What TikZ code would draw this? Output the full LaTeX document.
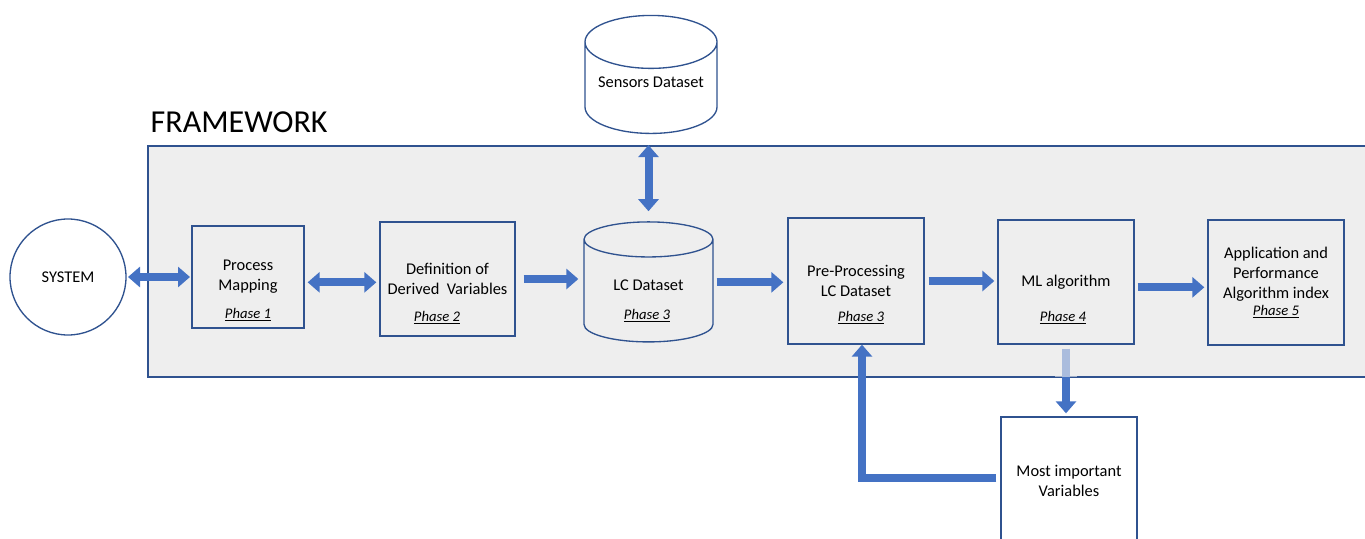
\documentclass[tikz,border=0pt]{standalone}
\usepackage{fontspec}
\setmainfont{Carlito}
\usetikzlibrary{shapes.geometric, arrows.meta, positioning, calc}
\definecolor{edgeblue}{HTML}{2F528F}
\definecolor{arrowblue}{HTML}{4472C4}
\definecolor{fwgray}{HTML}{EEEEEE}

\begin{document}
\begin{tikzpicture}[
    x=0.75pt, y=-0.75pt,
    font=\fontsize{12.3}{15}\selectfont,
    box/.style={rectangle, draw=edgeblue, line width=1pt, fill=fwgray, align=center, inner sep=0pt},
    db/.style={cylinder, shape border rotate=90, draw=edgeblue, line width=1pt, fill=fwgray, aspect=0.5,
        text height=6pt, text depth=7pt, inner sep=0pt},
    phase/.style={font=\fontsize{11}{13}\selectfont\itshape},
    flow/.style={draw=arrowblue, line width=6pt, -{Triangle[width=15pt, length=9pt]}},
    dflow/.style={draw=arrowblue, line width=6pt, {Triangle[width=15pt, length=9pt]}-{Triangle[width=15pt, length=9pt]}}
]
    \useasboundingbox (0,0) rectangle (1365,539);

    % framework area
    \node[draw=edgeblue, line width=1pt, fill=fwgray, minimum width=918pt, minimum height=173.25pt] (framework) at (760,261.5) {};
    \node[anchor=west, font=\fontsize{24}{28}\selectfont] (fwlabel) at (146,122) {FRAMEWORK};

    % outside
    \node[circle, draw=edgeblue, line width=1pt, fill=white, minimum size=87pt] (system) at (68,277) {SYSTEM};
    \node[db, fill=white, minimum width=99pt, minimum height=88.5pt] (sensors) at (651,88) {Sensors Dataset};

    % phases
    \node[box, minimum width=84pt, minimum height=76.5pt] (procmap) at (248,277) {Process\\Mapping};
    \node[box, minimum width=101.25pt, minimum height=85.5pt] (defvar) at (447.5,279) {Definition of\\Derived\ \ Variables};
    \node[db, minimum width=96.75pt, minimum height=90pt] (lc) at (648.5,291) {LC Dataset};
    \node[box, minimum width=102pt, minimum height=94.5pt] (preproc) at (856,281) {Pre-Processing\\LC Dataset};
    \node[box, minimum width=102pt, minimum height=93pt] (ml) at (1066,282) {ML algorithm};
    \node[box, minimum width=102pt, minimum height=93.75pt] (app) at (1276,282.5)
        {Application and\\Performance\\Algorithm index\\[-2pt]{\fontsize{11}{13}\selectfont\itshape\underline{Phase 5}}};
    \node[box, fill=white, minimum width=102pt, minimum height=96pt] (most) at (1069,481) {Most important\\Variables};

    \node[phase] (ph1) at (248,315) {\underline{Phase 1}};
    \node[phase] (ph2) at (437,318) {\underline{Phase 2}};
    \node[phase] (ph3a) at (647,316) {\underline{Phase 3}};
    \node[phase] (ph3b) at (861,318) {\underline{Phase 3}};
    \node[phase] (ph4) at (1063,318) {\underline{Phase 4}};

    % arrows
    \draw[dflow, shorten <=1pt, shorten >=1pt] (system.east) -- (system.east -| procmap.west);
    \draw[dflow, shorten <=2.25pt, shorten >=2.25pt] ([yshift=-4pt]procmap.east) -- ([yshift=-4pt]procmap.east -| defvar.west);
    \draw[flow, shorten <=6pt, shorten >=3.75pt] (defvar.east) -- (defvar.east -| lc.west);
    \draw[flow, shorten <=2.25pt, shorten >=3pt] ([yshift=-4pt]procmap.east -| lc.east) -- ([yshift=-4pt]procmap.east -| preproc.west);
    \draw[flow, shorten <=3pt, shorten >=2.25pt] (preproc.east) -- (preproc.east -| ml.west);
    \draw[flow, shorten <=2.25pt, shorten >=2.25pt] ([yshift=-4pt]ml.east) -- ([yshift=-4pt]ml.east -| app.west);
    \draw[dflow, shorten <=8.25pt, shorten >=7.5pt] (lc.north |- sensors.south) -- (lc.north);
    \draw[flow, shorten <=3pt, shorten >=2.25pt] (ml.south) -- (ml.south |- most.north);
    \fill[fwgray, opacity=0.6] ([shift={(-8pt,-1pt)}]ml.south) rectangle ([shift={(8pt,0.75pt)}]ml.south |- framework.south);
    \draw[flow, shorten <=3pt, line join=miter] ([yshift=2pt]most.west) -| ([xshift=4.5pt]preproc.south);
\end{tikzpicture}
\end{document}
